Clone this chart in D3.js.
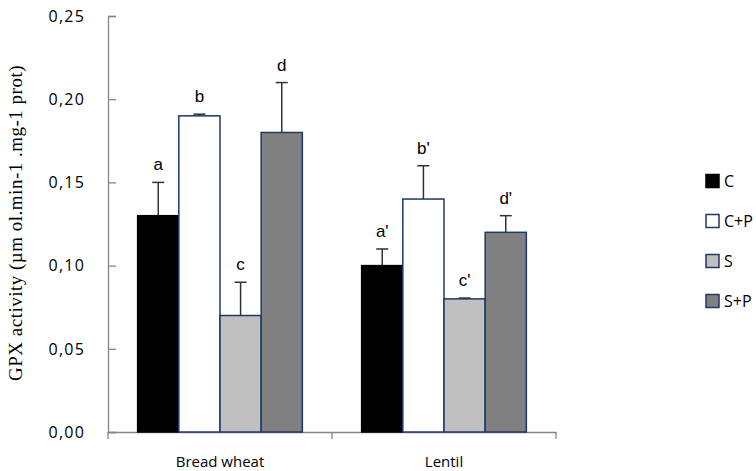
<!DOCTYPE html>
<html>
<head>
<meta charset="utf-8">
<script src="https://cdn.jsdelivr.net/npm/d3@7"></script>
<style>
  html, body { margin: 0; padding: 0; background: #fff; }
  svg { display: block; }
</style>
</head>
<body>
<svg id="chart" width="756" height="471"></svg>
<script>
// Groups along the x axis and the treatment series within each group
const categories = ["Bread wheat", "Lentil"];
const series = ["C", "C+P", "S", "S+P"];

// Mean GPX activity per group and series
const breadWheatValues = [0.13, 0.19, 0.07, 0.18];
const lentilValues     = [0.10, 0.14, 0.08, 0.12];

// Standard errors (upper bar only)
const breadWheatErrors = [0.02, 0.001, 0.02, 0.03];
const lentilErrors     = [0.01, 0.02, 0.0005, 0.01];

// Significance letters above each bar
const breadWheatLetters = ["a", "b", "c", "d"];
const lentilLetters     = ["a'", "b'", "c'", "d'"];

const yTicks = [0, 0.05, 0.10, 0.15, 0.20, 0.25];

const seriesFill = ["#000000", "#ffffff", "#c0c0c0", "#808080"];
const barStroke = "#1f3864";
const sansFont = "'Open Sans', 'Liberation Sans', sans-serif";

const groups = [
  { name: categories[0], values: breadWheatValues, errors: breadWheatErrors, letters: breadWheatLetters },
  { name: categories[1], values: lentilValues, errors: lentilErrors, letters: lentilLetters }
];

const svg = d3.select("#chart");
const plot = { left: 108, right: 556, top: 16, bottom: 432 };

const x = d3.scaleBand().domain(categories).range([plot.left, plot.right]).padding(0);
const xs = d3.scaleBand().domain(series).range([0, x.bandwidth()])
  .paddingInner(0).paddingOuter(0.72);
const y = d3.scaleLinear().domain([0, 0.25]).range([plot.bottom, plot.top]);
const fmt = v => d3.format(".2f")(v).replace(".", ",");

// Y axis with ticks pointing into the plot
const yAxis = svg.append("g")
  .attr("transform", `translate(${plot.left},0)`)
  .call(d3.axisRight(y).tickValues(yTicks).tickSize(8).tickFormat(""));
yAxis.select(".domain").attr("stroke", "#868686").attr("stroke-width", 1.3);
yAxis.selectAll(".tick line").attr("stroke", "#868686").attr("stroke-width", 1.3);

svg.append("g").selectAll("text").data(yTicks).join("text")
  .attr("x", 85).attr("y", d => y(d)).attr("dy", "0.36em")
  .attr("text-anchor", "end")
  .attr("font-family", sansFont)
  .attr("font-size", 16).attr("letter-spacing", 1.2).attr("fill", "#000")
  .text(fmt);

// X axis with group separators
const xAxis = svg.append("g")
  .attr("transform", `translate(0,${plot.bottom})`)
  .call(d3.axisBottom(x).tickSize(0).tickFormat(""));
xAxis.select(".domain").attr("stroke", "#868686").attr("stroke-width", 1.3);
xAxis.selectAll(".tick").remove();
const sepX = [plot.left, ...categories.map(c => x(c) + x.bandwidth())];
svg.append("g").selectAll("line").data(sepX).join("line")
  .attr("x1", d => d).attr("x2", d => d)
  .attr("y1", plot.bottom).attr("y2", plot.bottom + 7)
  .attr("stroke", "#868686").attr("stroke-width", 1.3);

svg.append("g").selectAll("text").data(categories).join("text")
  .attr("x", d => x(d) + x.bandwidth() / 2).attr("y", 462).attr("dy", "0.36em")
  .attr("text-anchor", "middle")
  .attr("font-family", sansFont)
  .attr("font-size", 15).attr("fill", "#000")
  .text(d => d);

// Bars, error bars and letters
groups.forEach(g => {
  const gg = svg.append("g").attr("transform", `translate(${x(g.name)},0)`);
  const rows = series.map((s, i) => ({ s, i, v: g.values[i], e: g.errors[i], l: g.letters[i] }));
  const cx = d => xs(d.s) + xs.bandwidth() / 2;

  gg.selectAll("line.err").data(rows).join("line").attr("class", "err")
    .attr("x1", cx).attr("x2", cx)
    .attr("y1", d => y(d.v)).attr("y2", d => y(d.v + d.e))
    .attr("stroke", "#333").attr("stroke-width", 1.5);
  gg.selectAll("line.cap").data(rows).join("line").attr("class", "cap")
    .attr("x1", d => cx(d) - 6).attr("x2", d => cx(d) + 6)
    .attr("y1", d => y(d.v + d.e)).attr("y2", d => y(d.v + d.e))
    .attr("stroke", "#333").attr("stroke-width", 1.5);

  gg.selectAll("rect").data(rows).join("rect")
    .attr("x", d => xs(d.s)).attr("width", xs.bandwidth())
    .attr("y", d => y(d.v)).attr("height", d => y(0) - y(d.v))
    .attr("fill", d => seriesFill[d.i])
    .attr("stroke", d => d.i === 0 ? "#000" : barStroke).attr("stroke-width", 1.5);

  gg.selectAll("text").data(rows).join("text")
    .attr("x", cx)
    .attr("y", d => y(d.v + d.e) - 12)
    .attr("text-anchor", "middle")
    .attr("font-family", "'Liberation Sans', Arial, sans-serif")
    .attr("font-size", 17).attr("fill", "#000")
    .text(d => d.l);
});

// Y axis title
svg.append("text")
  .attr("transform", "translate(22,223) rotate(-90)")
  .attr("text-anchor", "middle")
  .attr("font-family", "'Liberation Serif', 'Times New Roman', serif")
  .attr("font-size", 19).attr("letter-spacing", 0.5).attr("fill", "#000")
  .text("GPX activity (µm ol.min-1 .mg-1  prot)");

// Legend
const legend = svg.append("g").selectAll("g").data(series).join("g")
  .attr("transform", (d, i) => `translate(706,${181 + i * 40})`);
legend.append("rect")
  .attr("x", 0).attr("y", -6.5).attr("width", 13).attr("height", 13)
  .attr("fill", (d, i) => seriesFill[i])
  .attr("stroke", (d, i) => i === 0 ? "#000" : barStroke).attr("stroke-width", 1.5);
legend.append("text")
  .attr("x", 18).attr("y", 0).attr("dy", "0.36em")
  .attr("font-family", sansFont)
  .attr("font-size", 16).attr("fill", "#000")
  .text(d => d);
</script>
</body>
</html>
